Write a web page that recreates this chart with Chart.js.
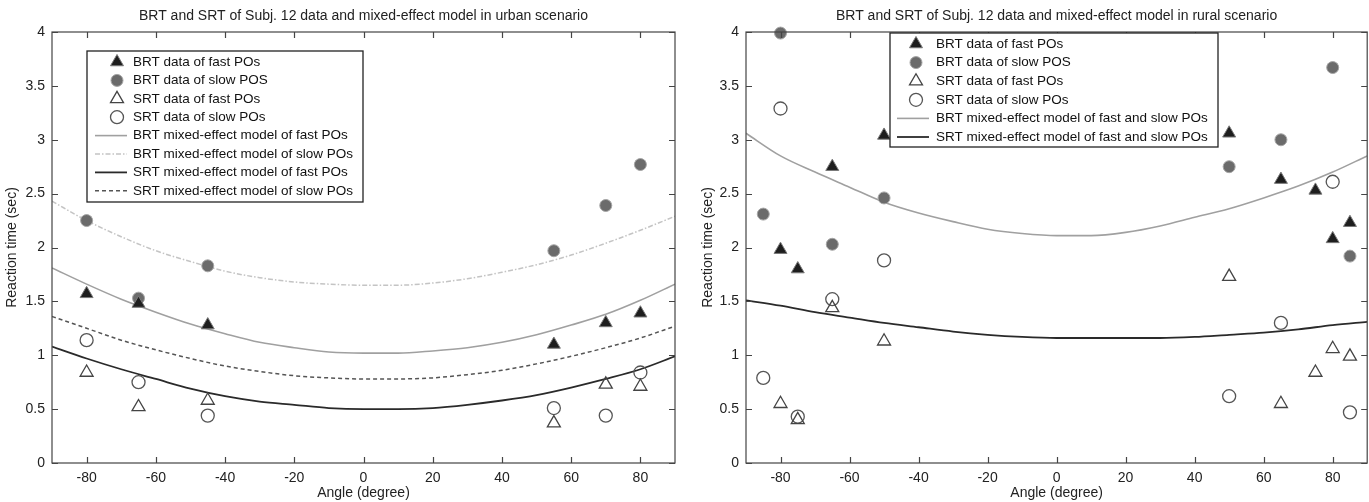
<!DOCTYPE html>
<html>
<head>
<meta charset="utf-8">
<title>BRT and SRT of Subj. 12</title>
<script src="https://cdn.jsdelivr.net/npm/chart.js"></script>
<style>
  body { margin: 0; background: #fff; width: 1369px; height: 502px; overflow: hidden; position: relative; }
  .panel { position: absolute; top: 0; height: 502px; }
  #urbanBox { left: 0; width: 684px; }
  #ruralBox { left: 696px; width: 680px; }
</style>
</head>
<body>
<div class="panel" id="urbanBox"><canvas id="urbanChart" width="684" height="502"></canvas></div>
<div class="panel" id="ruralBox"><canvas id="ruralChart" width="680" height="502"></canvas></div>

<script>
// tick labels (same for both panels)
const xTicks = [-80, -60, -40, -20, 0, 20, 40, 60, 80];
const yTicks = [0, 0.5, 1, 1.5, 2, 2.5, 3, 3.5, 4];

const modelAngles = [-90, -80, -70, -60, -50, -40, -30, -20, -10, 0, 10, 20, 30, 40, 50, 60, 70, 80, 90];

// ---- urban scenario ----
const urbanAngles = [-80, -65, -45, 55, 70, 80];
const urbanBrtFast = [1.57, 1.48, 1.28, 1.10, 1.30, 1.39];
const urbanBrtSlow = [2.25, 1.53, 1.83, 1.97, 2.39, 2.77];
const urbanSrtFast = [0.84, 0.52, 0.58, 0.37, 0.73, 0.71];
const urbanSrtSlow = [1.14, 0.75, 0.44, 0.51, 0.44, 0.84];
const urbanModelBrtFast = [1.81, 1.66, 1.52, 1.40, 1.29, 1.20, 1.12, 1.07, 1.03, 1.02, 1.02, 1.04, 1.07, 1.12, 1.19, 1.28, 1.38, 1.51, 1.66];
const urbanModelBrtSlow = [2.43, 2.25, 2.10, 1.97, 1.87, 1.78, 1.72, 1.68, 1.66, 1.65, 1.65, 1.67, 1.71, 1.77, 1.84, 1.93, 2.04, 2.16, 2.29];
const urbanModelSrtFast = [1.08, 0.97, 0.87, 0.78, 0.69, 0.62, 0.57, 0.54, 0.51, 0.50, 0.50, 0.51, 0.54, 0.58, 0.63, 0.70, 0.78, 0.87, 0.99];
const urbanModelSrtSlow = [1.36, 1.25, 1.14, 1.05, 0.97, 0.90, 0.85, 0.81, 0.79, 0.78, 0.78, 0.79, 0.82, 0.86, 0.92, 0.99, 1.07, 1.16, 1.27];

// ---- rural scenario ----
const ruralBrtFastX = [-80, -75, -65, -50, 50, 65, 75, 80, 85];
const ruralBrtFast = [1.98, 1.80, 2.75, 3.04, 3.06, 2.63, 2.53, 2.08, 2.23];
const ruralBrtSlowX = [-85, -80, -65, -50, 50, 65, 80, 85];
const ruralBrtSlow = [2.31, 3.99, 2.03, 2.46, 2.75, 3.00, 3.67, 1.92];
const ruralSrtFastX = [-80, -75, -65, -50, 50, 65, 75, 80, 85];
const ruralSrtFast = [0.55, 0.40, 1.44, 1.13, 1.73, 0.55, 0.84, 1.06, 0.99];
const ruralSrtSlowX = [-85, -80, -75, -65, -50, 50, 65, 80, 85];
const ruralSrtSlow = [0.79, 3.29, 0.43, 1.52, 1.88, 0.62, 1.30, 2.61, 0.47];
const ruralModelBrt = [3.06, 2.85, 2.70, 2.56, 2.42, 2.32, 2.24, 2.17, 2.13, 2.11, 2.11, 2.14, 2.20, 2.28, 2.36, 2.46, 2.57, 2.70, 2.85];
const ruralModelSrt = [1.51, 1.46, 1.40, 1.35, 1.30, 1.26, 1.22, 1.19, 1.17, 1.16, 1.16, 1.16, 1.16, 1.17, 1.19, 1.21, 1.24, 1.28, 1.31];

const FONT = "'Liberation Sans', Arial, sans-serif";

function pts(xs, ys) {
    return xs.map((x, i) => ({ x: x, y: ys[i] }));
}

// marker styles
function brtFastSet(label, xs, ys) {
    return { label, data: pts(xs, ys), pointStyle: 'triangle', pointRadius: 7.5, pointHoverRadius: 7.5,
             backgroundColor: '#1e1e1e', borderColor: '#7a7a7a', borderWidth: 1, showLine: false, clip: false, order: 0 };
}
function brtSlowSet(label, xs, ys) {
    return { label, data: pts(xs, ys), pointStyle: 'circle', pointRadius: 6, pointHoverRadius: 6,
             backgroundColor: '#6b6b6b', borderColor: '#a5a5a5', borderWidth: 1, showLine: false, clip: false, order: 0 };
}
function srtFastSet(label, xs, ys) {
    return { label, data: pts(xs, ys), pointStyle: 'triangle', pointRadius: 7.5, pointHoverRadius: 7.5,
             backgroundColor: 'rgba(255,255,255,0)', borderColor: '#444', borderWidth: 1.3, showLine: false, clip: false, order: 0 };
}
function srtSlowSet(label, xs, ys) {
    return { label, data: pts(xs, ys), pointStyle: 'circle', pointRadius: 6.5, pointHoverRadius: 6.5,
             backgroundColor: 'rgba(255,255,255,0)', borderColor: '#555', borderWidth: 1.3, showLine: false, clip: false, order: 0 };
}
function modelSet(label, ys, color, width, dash) {
    return { label, data: pts(modelAngles, ys), showLine: true, pointRadius: 0, borderColor: color,
             backgroundColor: color, borderWidth: width, borderDash: dash, cubicInterpolationMode: 'monotone', order: 1 };
}

// frame, inward ticks, title and in-plot legend like the original figure
const matlabFrame = {
    id: 'matlabFrame',
    afterDraw(chart, args, opts) {
        const ctx = chart.ctx;
        const a = chart.chartArea;
        const x = chart.scales.x, y = chart.scales.y;
        ctx.save();
        ctx.strokeStyle = '#444';
        ctx.lineWidth = 1.2;
        ctx.strokeRect(a.left, a.top, a.right - a.left, a.bottom - a.top);
        ctx.beginPath();
        xTicks.forEach(v => {
            const px = Math.round(x.getPixelForValue(v)) + 0.5;
            ctx.moveTo(px, a.bottom); ctx.lineTo(px, a.bottom - 6);
            ctx.moveTo(px, a.top); ctx.lineTo(px, a.top + 6);
        });
        yTicks.forEach(v => {
            const py = Math.round(y.getPixelForValue(v)) + 0.5;
            ctx.moveTo(a.left, py); ctx.lineTo(a.left + 6, py);
            ctx.moveTo(a.right, py); ctx.lineTo(a.right - 6, py);
        });
        ctx.stroke();

        // title
        ctx.fillStyle = '#222';
        ctx.font = '14px ' + FONT;
        ctx.textAlign = 'center';
        ctx.textBaseline = 'middle';
        ctx.fillText(opts.title, (a.left + a.right) / 2, 16);

        // legend
        const L = opts.legend;
        ctx.fillStyle = '#fff';
        ctx.fillRect(L.left, L.top, L.width, L.height);
        ctx.strokeStyle = '#222';
        ctx.lineWidth = 1.3;
        ctx.strokeRect(L.left, L.top, L.width, L.height);
        chart.data.datasets.forEach((ds, i) => {
            const yy = L.firstRow + i * L.rowGap;
            ctx.save();
            if (ds.showLine) {
                ctx.strokeStyle = ds.borderColor;
                ctx.lineWidth = ds.borderWidth;
                ctx.setLineDash(ds.borderDash || []);
                ctx.beginPath();
                ctx.moveTo(L.lineStart, yy);
                ctx.lineTo(L.lineEnd, yy);
                ctx.stroke();
            } else {
                ctx.fillStyle = ds.backgroundColor;
                ctx.strokeStyle = ds.borderColor;
                ctx.lineWidth = ds.borderWidth;
                Chart.helpers.drawPoint(ctx, { pointStyle: ds.pointStyle, radius: ds.pointRadius, rotation: 0, borderWidth: ds.borderWidth }, L.markX, yy);
            }
            ctx.restore();
            ctx.fillStyle = '#111';
            ctx.font = '13.5px ' + FONT;
            ctx.textAlign = 'left';
            ctx.textBaseline = 'middle';
            ctx.fillText(ds.label, L.textX, yy);
        });
        ctx.restore();
    }
};

function makeOptions(title, legend, padRight, yWidth) {
    return {
        responsive: false,
        animation: false,
        layout: { padding: { top: 32, right: padRight, left: 0, bottom: 0 } },
        plugins: {
            legend: { display: false },
            tooltip: { enabled: false },
            matlabFrame: { title: title, legend: legend }
        },
        scales: {
            x: {
                type: 'linear', min: -90, max: 90,
                afterBuildTicks: s => { s.ticks = xTicks.map(v => ({ value: v })); },
                afterFit: s => { s.height = 39; },
                grid: { display: false, drawTicks: false },
                border: { display: false },
                ticks: { color: '#222', font: { family: FONT, size: 14 }, padding: 7, maxRotation: 0, autoSkip: false, callback: v => String(v) },
                title: { display: true, text: 'Angle (degree)', color: '#222', font: { family: FONT, size: 14 }, padding: { top: 0, bottom: 0 } }
            },
            y: {
                type: 'linear', min: 0, max: 4,
                afterBuildTicks: s => { s.ticks = yTicks.map(v => ({ value: v })); },
                afterFit: s => { s.width = yWidth; },
                grid: { display: false, drawTicks: false },
                border: { display: false },
                ticks: { color: '#222', font: { family: FONT, size: 14 }, padding: 7, autoSkip: false, callback: v => String(v) },
                title: { display: true, text: 'Reaction time (sec)', color: '#222', font: { family: FONT, size: 14 }, padding: { top: 4, bottom: 0 } }
            }
        }
    };
}

new Chart(document.getElementById('urbanChart'), {
    type: 'scatter',
    data: {
        datasets: [
            brtFastSet('BRT data of fast POs', urbanAngles, urbanBrtFast),
            brtSlowSet('BRT data of slow POS', urbanAngles, urbanBrtSlow),
            srtFastSet('SRT data of fast POs', urbanAngles, urbanSrtFast),
            srtSlowSet('SRT data of slow POs', urbanAngles, urbanSrtSlow),
            modelSet('BRT mixed-effect model of fast POs', urbanModelBrtFast, '#a0a0a0', 1.6, []),
            modelSet('BRT mixed-effect model of slow POs', urbanModelBrtSlow, '#c4c4c4', 1.5, [5, 2, 1.5, 2]),
            modelSet('SRT mixed-effect model of fast POs', urbanModelSrtFast, '#2a2a2a', 1.8, []),
            modelSet('SRT mixed-effect model of slow POs', urbanModelSrtSlow, '#555555', 1.5, [4, 3])
        ]
    },
    options: makeOptions('BRT and SRT of Subj. 12 data and mixed-effect model in urban scenario',
        { left: 87, top: 51, width: 276, height: 151, firstRow: 62, rowGap: 18.4, markX: 117, lineStart: 95, lineEnd: 127, textX: 133 }, 9, 52),
    plugins: [matlabFrame]
});

new Chart(document.getElementById('ruralChart'), {
    type: 'scatter',
    data: {
        datasets: [
            brtFastSet('BRT data of fast POs', ruralBrtFastX, ruralBrtFast),
            brtSlowSet('BRT data of slow POS', ruralBrtSlowX, ruralBrtSlow),
            srtFastSet('SRT data of fast POs', ruralSrtFastX, ruralSrtFast),
            srtSlowSet('SRT data of slow POs', ruralSrtSlowX, ruralSrtSlow),
            modelSet('BRT mixed-effect model of fast and slow POs', ruralModelBrt, '#a0a0a0', 1.6, []),
            modelSet('SRT mixed-effect model of fast and slow POs', ruralModelSrt, '#2a2a2a', 1.8, [])
        ]
    },
    options: makeOptions('BRT and SRT of Subj. 12 data and mixed-effect model in rural scenario',
        { left: 194, top: 33, width: 328, height: 114, firstRow: 44, rowGap: 18.6, markX: 220, lineStart: 201, lineEnd: 233, textX: 240 }, 0, 50),
    plugins: [matlabFrame]
});
</script>
</body>
</html>
